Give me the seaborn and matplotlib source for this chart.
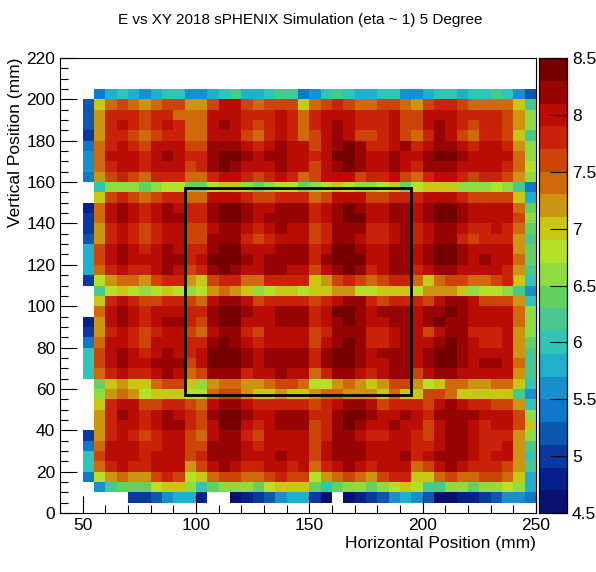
import numpy as np
import pandas as pd
import seaborn as sns
import matplotlib
matplotlib.use("Agg")
import matplotlib.pyplot as plt
from matplotlib.colors import ListedColormap
from matplotlib.patches import Rectangle
from matplotlib.ticker import FixedLocator, FuncFormatter

# --- data: 5 mm bins, x 50..250, y 205 (top row) .. 5 (bottom row) ---
# each char is one cell, value = 4.6 + 0.2 * level, '.' = empty
LEVELS = "0123456789abcdefghij"
x_edges_mm = np.arange(50, 255, 5)
y_top_mm = 205
rows = [
    ".467656775567866788" + "457876677556776778753",
    "3cefedeffddfhhfefff" + "cefgfeeffedfggfeeeec8",
    "3dgggfggeeehhhggghg" + "eghhhggghffhhhggggfda",
    "3dghgfghgeehihgfghg" + "eghihggghffhihgfggfda",
    "2dggfefggeehhhfeghg" + "efhihffghfegihfeggfc8",
    "4eghgfhhhffiiihghih" + "hfhijigghighiihghhgda",
    "5ehhhghihggijjihiih" + "hghjjihhihhijjihhhhea",
    "5eghhghhhfgijihhhih" + "hfhijihhihgiiihhhhgeb",
    "4dfgfegggeeghhgfghg" + "efhhhfgghfeghhgfggfda",
    ".7aaa9abb99bcca9abb" + "9abcbaabc9bcccaaaba84",
    ".cfgfefggeehhhgffgg" + "gefhhhffggghhhgffffc6",
    "1ehihghihggijjihhii" + "ighijihhiihijjihhhhe9",
    "2ehihghiiggijjihiii" + "ighijjhhiihijjihhhhfa",
    "2dghgfghhffhiihghih" + "hfgiiigghighiihgghge9",
    "3dghgfghhffiiigfghh" + "hfgiihgghighiigfgggd8",
    "6fhihghihggijjhhhii" + "ighjjihhiihijjihhhhd9",
    "6fhihhhiighjjjihiii" + "igijjjhhiihijjihihhe9",
    "6eghgghihfgijihhiih" + "hfhijighiighiihhhhgd8",
    "2bdeedfggdcfggeeggg" + "gcdfgfefggeceffeefgc7",
    ".8bcbabcbabdedcabcc" + "bccddbbcccbdddcabba85",
    ".cghgffggfehiihfggg" + "gfghiigfgggfhiihfffd7",
    ".ehihghhhggijjihhii" + "ighjjihiiihiijihhhhea",
    "1dhihghiigfijjhhhii" + "ighijihhiihijiihhhhea",
    "2dghgfghhfehiigfhhh" + "hfgiiigghihfhiiggghda",
    "4ehhgfhhhggijihghhh" + "hfhijigghihhijihgghd9",
    "7fhihghihghjjjihiii" + "igijjihiiihijjihhhhd8",
    "7fhihhiiifhjjjihiii" + "igijjihhiihijjihiihe8",
    "7eghgghihefiiighhih" + "hegiihghiifhiihhhhhd8",
    ".9cdcceffcadeeddeff" + "ebbdedcdffdbceeddeec7",
    ".adedbcccbbeffdccdc" + "cdeedddceccffeccccc85",
    ".cghhffggfehiihgggg" + "gfghiihfgggfhihggffd7",
    ".dgihghihgfijjihhii" + "iggijjihhihgiiiihhhfa",
    ".dghhghiigfhjjhghii" + "ifgijihhihhfhiihghhfc",
    "2dghgfghhfehiigfhhh" + "hfgiihgghhgfhiihgggda",
    "4ehhhgghhffiiihghhh" + "hfhiiihhhhgghiihgghd8",
    "7fhhhghhhfgiiihhhih" + "hfhiiihhhighiiihghhd7",
    "7eghgghhhdfhihgghhg" + "heghihghhhefhihgggfd8",
    "4bdeddfgfbceffeefgf" + "fbdefedfggccefeeffec6",
    ".58999bcca79aaa9bcc" + "c979aa9abcb88aa9aaba6",
    "....2235661..012356" + "620.01235653001123554",
]
box_x = [95, 195]
box_y = [57, 157]

palette = ["#0a1070", "#04208a", "#0838a0", "#0c58b0", "#1078c8", "#1890cc",
           "#20b0cc", "#30c4b8", "#48c890", "#64d060", "#90dc40", "#b4e028",
           "#c8c814", "#cc9410", "#d0680c", "#cc4408", "#c82208", "#b80c04",
           "#960404", "#740000"]

grid = np.array([[np.nan if ch == "." else 4.6 + 0.2 * LEVELS.index(ch) for ch in r] for r in rows])
df = pd.DataFrame(grid)

plt.rcParams['font.family'] = ['Liberation Sans', 'DejaVu Sans']
fig = plt.figure(figsize=(5.96, 5.72), dpi=100)
W, H = 596, 572
ax = fig.add_axes([60 / W, 1 - 513 / H, 476 / W, 455 / H])
cax = fig.add_axes([539 / W, 1 - 513 / H, 28 / W, 455 / H])

sns.heatmap(df, ax=ax, cbar_ax=cax, cmap=ListedColormap(palette), vmin=4.5, vmax=8.5,
            xticklabels=False, yticklabels=False)

# index <-> mm conversions
def xi(mm): return (mm - 50) / 5.0
def yi(mm): return (y_top_mm - mm) / 5.0

ax.set_xlim(xi(40), xi(250))
ax.set_ylim(yi(0), yi(220))
ax.xaxis.set_major_locator(FixedLocator([xi(v) for v in range(50, 251, 50)]))
ax.xaxis.set_minor_locator(FixedLocator([xi(v) for v in range(40, 251, 10)]))
ax.yaxis.set_major_locator(FixedLocator([yi(v) for v in range(0, 221, 20)]))
ax.yaxis.set_minor_locator(FixedLocator([yi(v) for v in range(0, 221, 5)]))
ax.xaxis.set_major_formatter(FuncFormatter(lambda v, p: f"{50 + 5 * v:.0f}"))
ax.yaxis.set_major_formatter(FuncFormatter(lambda v, p: f"{y_top_mm - 5 * v:.0f}"))
ax.tick_params(which='both', direction='in', top=False, right=False, labelsize=12.5, colors='black')
ax.tick_params(which='major', length=12, width=0.8)
ax.tick_params(which='minor', length=6, width=0.8)
for s in ax.spines.values():
    s.set_visible(True)
    s.set_color('black')
    s.set_linewidth(0.8)

ax.add_patch(Rectangle((xi(box_x[0]), yi(box_y[1])), xi(box_x[1]) - xi(box_x[0]),
                       yi(box_y[0]) - yi(box_y[1]), fill=False, edgecolor='black', linewidth=2))

ax.set_xlabel("Horizontal Position (mm)", fontsize=12.5, loc='right', labelpad=2)
ax.set_ylabel("Vertical Position (mm)", fontsize=12.5, loc='top', labelpad=2)
fig.text(300 / W, 1 - 20 / H, "E vs XY 2018 sPHENIX Simulation (eta ~ 1) 5 Degree",
         ha='center', va='center', fontsize=11)

cax.yaxis.set_major_locator(FixedLocator(np.arange(4.5, 8.51, 0.5)))
cax.yaxis.set_major_formatter(FuncFormatter(lambda v, p: f"{v:g}"))
cax.tick_params(direction='in', length=12, width=0.8, labelsize=12.5, right=True, left=False)
for s in cax.spines.values():
    s.set_visible(True)
    s.set_color('black')
    s.set_linewidth(0.8)

fig.savefig("out.png", dpi=100)
